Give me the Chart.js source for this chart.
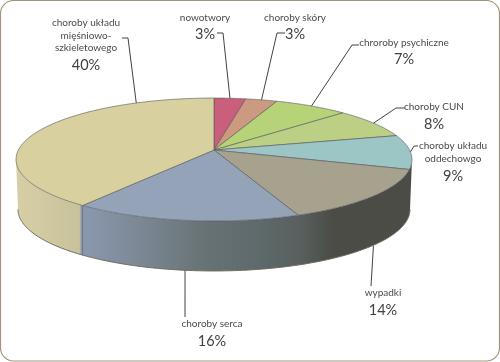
<!DOCTYPE html>
<html>
<head>
<meta charset="utf-8">
<style>
html, body { margin: 0; padding: 0; background: #fff; }
canvas { display: block; }
</style>
<script src="https://cdn.jsdelivr.net/npm/chart.js@4"></script>
</head>
<body>
<canvas id="pie3d" width="500" height="362"></canvas>
<script>
const categories = ['nowotwory', 'choroby skóry', 'chroroby psychiczne', 'choroby CUN', 'choroby układu oddechowgo', 'wypadki', 'choroby serca', 'choroby układu mięśniowo-szkieletowego'];
const shares = [3, 3, 7, 8, 9, 14, 16, 40];
const sliceColors = ['#c95f7b', '#cb9a80', '#b6d377', '#bbcf85', '#9cc5c6', '#a6a28e', '#95a3b9', '#d8d09f'];
const labelLines = [
    ['nowotwory'],
    ['choroby skóry'],
    ['chroroby psychiczne'],
    ['choroby CUN'],
    ['choroby układu', 'oddechowgo'],
    ['wypadki'],
    ['choroby serca'],
    ['choroby układu', 'mięśniowo-', 'szkieletowego']
];

// pie projection: perspective tilt, apex at (cx, cy)
const cx = 214, cy = 150, rx = 195.6, ry = 60, tilt = 0.1545, depth = 50, bottomInset = 0.99;

// label layout: text centre x, first baseline y, elbow of the leader line
const labelBoxes = [
    { x: 205, y: 21, pctY: 39, from: [217, 33], elbow: [223, 33] },
    { x: 295, y: 21, pctY: 39, from: [285, 33], elbow: [277, 33] },
    { x: 404, y: 46, pctY: 64, from: [359, 45], elbow: [352, 45] },
    { x: 434, y: 110, pctY: 129, from: [405, 108], elbow: [396, 108] },
    { x: 453, y: 149, pctY: 181, from: [418, 146], elbow: [414, 146] },
    { x: 383, y: 296, pctY: 315, from: [371, 286], wall: true },
    { x: 212, y: 327, pctY: 346, from: [185, 317], wall: true },
    { x: 86, y: 26, pctY: 70, from: [122, 38], elbow: [128, 38], anchorAngle: -2.04 }
];

function project(a, r) {
    const u = Math.cos(a) * r, v = Math.sin(a) * r, w = 1 - tilt * v;
    return [cx + rx * u / w, cy + ry * v / w];
}

function lower(p) {
    return [cx + (p[0] - cx) * bottomInset, p[1] + depth];
}

function wallGradient(ctx, stops) {
    const g = ctx.createLinearGradient(16, 0, 412, 0);
    stops.forEach(s => g.addColorStop(s[0], s[1]));
    return g;
}

const pie3dPlugin = {
    id: 'pie3d',
    beforeDatasetsDraw(chart) {
        const ctx = chart.ctx;
        const arcs = chart.getDatasetMeta(0).data;
        const limit = Math.asin(tilt);
        const wallFill = wallGradient(ctx, [
            [0, '#d6cfa6'], [0.16, '#c8c29b'], [0.165, '#8b99b1'], [0.3, '#7d8996'],
            [0.47, '#687376'], [0.62, '#5e696b'], [0.72, '#595f5d'], [0.8, '#4a4c45'], [1, '#4a4c45']
        ]);

        ctx.save();
        // side wall, front half only, one band so no seams show between slices
        ctx.beginPath();
        const rim = [];
        for (let i = 0; i <= 180; i++) {
            rim.push(project(limit + (Math.PI - 2 * limit) * i / 180, 1));
        }
        rim.forEach((p, i) => i ? ctx.lineTo(p[0], p[1]) : ctx.moveTo(p[0], p[1]));
        rim.slice().reverse().forEach(p => {
            const q = lower(p);
            ctx.lineTo(q[0], q[1]);
        });
        ctx.closePath();
        ctx.fillStyle = wallFill;
        ctx.fill();

        // lower rim line and the break between the tan and blue walls
        ctx.beginPath();
        rim.forEach((p, i) => {
            const q = lower(p);
            i ? ctx.lineTo(q[0], q[1]) : ctx.moveTo(q[0], q[1]);
        });
        ctx.strokeStyle = '#6f6e60';
        ctx.lineWidth = 1;
        ctx.stroke();
        const seam = project(arcs[6].endAngle, 1);
        ctx.beginPath();
        ctx.moveTo(seam[0], seam[1]);
        ctx.lineTo(seam[0], seam[1] + depth);
        ctx.strokeStyle = '#77786c';
        ctx.stroke();

        // top face
        arcs.forEach(arc => {
            ctx.beginPath();
            ctx.moveTo(cx, cy);
            for (let i = 0; i <= 60; i++) {
                const p = project(arc.startAngle + (arc.endAngle - arc.startAngle) * i / 60, 1);
                ctx.lineTo(p[0], p[1]);
            }
            ctx.closePath();
            ctx.fillStyle = arc.options.backgroundColor;
            ctx.fill();
            ctx.strokeStyle = 'rgba(85, 85, 90, 0.75)';
            ctx.lineWidth = 0.8;
            ctx.stroke();
        });

        // leader lines and labels
        ctx.strokeStyle = '#3f4342';
        ctx.lineWidth = 1;
        ctx.textAlign = 'center';
        ctx.textBaseline = 'alphabetic';
        arcs.forEach((arc, i) => {
            const box = labelBoxes[i];
            const mid = box.anchorAngle !== undefined ? box.anchorAngle : (arc.startAngle + arc.endAngle) / 2;
            const end = project(mid, 1);
            ctx.beginPath();
            ctx.moveTo(box.from[0], box.from[1]);
            if (box.elbow) ctx.lineTo(box.elbow[0], box.elbow[1]);
            ctx.lineTo(end[0], end[1] + (box.wall ? depth : 0));
            ctx.stroke();

            ctx.fillStyle = '#4a4a4a';
            ctx.font = '10px Lato';
            labelLines[i].forEach((line, n) => ctx.fillText(line, box.x, box.y + n * 12.5));
            ctx.fillStyle = '#404040';
            ctx.font = '14.5px Lato';
            ctx.fillText(shares[i] + '%', box.x, box.pctY);
        });

        // rounded frame
        ctx.beginPath();
        ctx.roundRect(0.5, 0.5, 499, 360.5, 13);
        ctx.strokeStyle = '#a3957b';
        ctx.lineWidth = 1.2;
        ctx.stroke();
        ctx.restore();
        return false;
    }
};

document.addEventListener('DOMContentLoaded', function () {
    new Chart(document.getElementById('pie3d').getContext('2d'), {
        type: 'pie',
        data: {
            labels: categories,
            datasets: [{
                data: shares,
                backgroundColor: sliceColors
            }]
        },
        options: {
            responsive: false,
            animation: false,
            plugins: {
                legend: { display: false },
                tooltip: { enabled: false }
            }
        },
        plugins: [pie3dPlugin]
    });
});
</script>
</body>
</html>
